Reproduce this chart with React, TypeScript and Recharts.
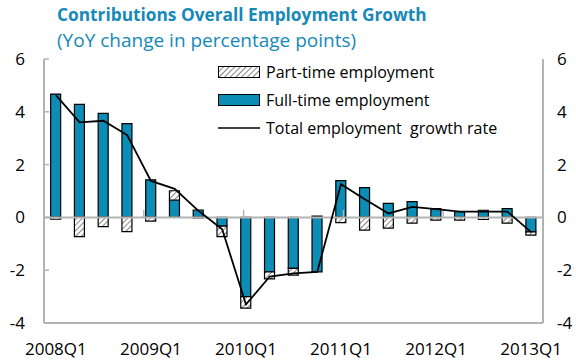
import {
  ComposedChart, Bar, Line, XAxis, YAxis, ReferenceLine
} from 'recharts';

const quarters = [
  '2008Q1', '2008Q2', '2008Q3', '2008Q4',
  '2009Q1', '2009Q2', '2009Q3', '2009Q4',
  '2010Q1', '2010Q2', '2010Q3', '2010Q4',
  '2011Q1', '2011Q2', '2011Q3', '2011Q4',
  '2012Q1', '2012Q2', '2012Q3', '2012Q4',
  '2013Q1',
];
const fullTime = [
  4.67, 4.28, 3.94, 3.55, 1.42, 0.66, 0.28, -0.33, -3.0, -2.06, -1.93,
  -2.06, 1.39, 1.13, 0.53, 0.6, 0.33, 0.22, 0.27, 0.33, -0.55,
];
const partTime = [
  -0.07, -0.73, -0.35, -0.54, -0.14, 0.35, -0.02, -0.4, -0.44, -0.27, -0.26,
  0.05, -0.2, -0.48, -0.41, -0.22, -0.1, -0.1, -0.08, -0.22, -0.12,
];
const totalGrowth = [
  4.63, 3.6, 3.66, 3.12, 1.38, 1.08, 0.25, -0.45, -3.3, -2.24, -2.12,
  -2.06, 1.26, 0.69, 0.15, 0.4, 0.31, 0.22, 0.22, 0.22, -0.56,
];
const yTicks = [-4, -2, 0, 2, 4, 6];
const yearBoundaries = [4, 8, 12, 16, 20];

const data = quarters.map((q, i) => ({
  q,
  full: fullTime[i],
  part: partTime[i],
  total: totalGrowth[i],
}));

const BLUE = '#0B8DB5';
const TITLE = '#1689B8';
const GRID = '#B3B3B3';
const FONT = '"Open Sans", sans-serif';
const N = quarters.length;

function LegendBox() {
  const row = { display: 'flex', alignItems: 'center', height: 28 };
  const txt = { fontSize: 16, color: '#000', marginLeft: 6, whiteSpace: 'pre' as const };
  return (
    <div style={{ position: 'absolute', left: 218, top: 58, fontFamily: FONT }}>
      <div style={row}>
        <svg width={42} height={12}>
          <rect x={0.5} y={0.5} width={41} height={11} fill="url(#hatch)" stroke="#000" />
        </svg>
        <span style={txt}>Part-time employment</span>
      </div>
      <div style={row}>
        <svg width={42} height={12}>
          <rect x={0.5} y={0.5} width={41} height={11} fill={BLUE} stroke="#000" />
        </svg>
        <span style={txt}>Full-time employment</span>
      </div>
      <div style={row}>
        <svg width={42} height={12}>
          <line x1={0} y1={6} x2={42} y2={6} stroke="#000" strokeWidth={1.5} />
        </svg>
        <span style={txt}>Total employment  growth rate</span>
      </div>
    </div>
  );
}

export default function App() {
  return (
    <div style={{ position: 'absolute', left: 0, top: 0, width: 576, height: 364, fontFamily: FONT }}>
      <ComposedChart
        width={576}
        height={364}
        data={data}
        stackOffset="sign"
        barCategoryGap="28%"
        margin={{ top: 59, right: 0, bottom: 0, left: 0 }}
      >
        <defs>
          <pattern id="hatch" width={4} height={4} patternUnits="userSpaceOnUse" patternTransform="rotate(45)">
            <rect width={4} height={4} fill="#fff" />
            <line x1={0} y1={0} x2={0} y2={4} stroke="#666" strokeWidth={1.6} />
          </pattern>
        </defs>
        <XAxis
          dataKey="q"
          interval={3}
          axisLine={{ stroke: GRID, strokeWidth: 2 }}
          tickLine={false}
          height={41}
          tick={{ fontSize: 17, fill: '#000' }}
          tickMargin={14}
        />
        <XAxis xAxisId="top" dataKey="q" orientation="top" height={0} tick={false} tickLine={false}
          axisLine={{ stroke: GRID, strokeWidth: 2 }} />
        <XAxis xAxisId="num" type="number" domain={[0, N]} hide />
        <YAxis
          yAxisId="left"
          domain={[-4, 6]}
          ticks={yTicks}
          width={44}
          axisLine={{ stroke: GRID, strokeWidth: 2 }}
          tickLine={false}
          tickSize={0}
          tickMargin={19}
          tick={{ fontSize: 17, fill: '#000' }}
        />
        <YAxis
          yAxisId="right"
          orientation="right"
          domain={[-4, 6]}
          ticks={yTicks}
          width={33}
          axisLine={{ stroke: GRID, strokeWidth: 2 }}
          tickLine={false}
          tickSize={0}
          tickMargin={14}
          tick={{ fontSize: 17, fill: '#000' }}
        />
        <ReferenceLine yAxisId="left" y={0} stroke={GRID} strokeWidth={2} />
        {yearBoundaries.map((b) => (
          <ReferenceLine
            key={b}
            yAxisId="left"
            xAxisId="num"
            segment={[{ x: b, y: 0 }, { x: b, y: 0.28 }]}
            stroke={GRID}
            strokeWidth={1.5}
          />
        ))}
        {yTicks.map((t) => (
          <ReferenceLine
            key={'l' + t}
            yAxisId="left"
            xAxisId="num"
            segment={[{ x: 0, y: t }, { x: 0.2, y: t }]}
            stroke={GRID}
            strokeWidth={1.5}
          />
        ))}
        {yTicks.map((t) => (
          <ReferenceLine
            key={'r' + t}
            yAxisId="left"
            xAxisId="num"
            segment={[{ x: N - 0.2, y: t }, { x: N, y: t }]}
            stroke={GRID}
            strokeWidth={1.5}
          />
        ))}
        <Bar yAxisId="left" dataKey="full" stackId="a" fill={BLUE} stroke="#000" strokeWidth={1.2} isAnimationActive={false} />
        <Bar yAxisId="left" dataKey="part" stackId="a" fill="url(#hatch)" stroke="#000" strokeWidth={1.2} isAnimationActive={false} />
        <Line yAxisId="right" dataKey="total" type="linear" stroke="#000" strokeWidth={1.8} dot={false} isAnimationActive={false} />
      </ComposedChart>
      <div style={{ position: 'absolute', left: 57, top: 3, color: TITLE, fontWeight: 700, fontSize: 17.3, whiteSpace: 'nowrap' }}>
        Contributions Overall Employment Growth
      </div>
      <div style={{ position: 'absolute', left: 57, top: 27, color: TITLE, fontSize: 19, whiteSpace: 'nowrap' }}>
        (YoY change in percentage points)
      </div>
      <LegendBox />
    </div>
  );
}
